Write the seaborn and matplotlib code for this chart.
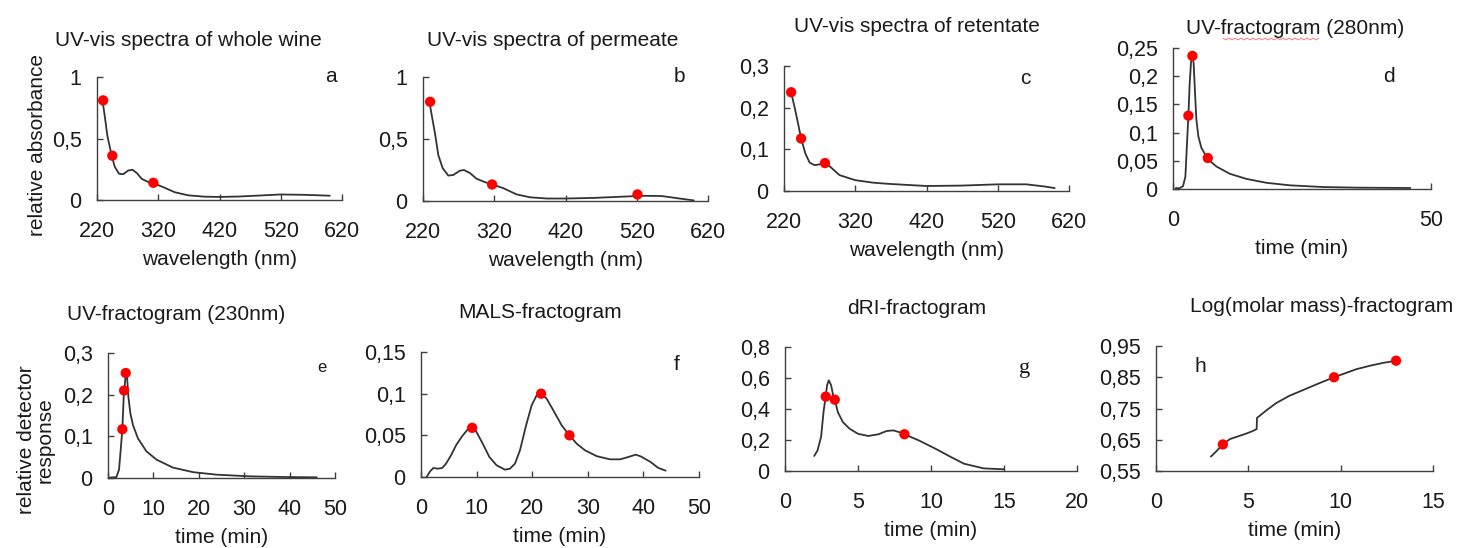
import matplotlib
matplotlib.use("Agg")
import matplotlib.pyplot as plt
from matplotlib.lines import Line2D
import seaborn as sns
import pandas as pd

sns.set_style("ticks")
plt.rcParams['font.family'] = ['Liberation Sans', 'DejaVu Sans']

# ---- data ----
# a: UV-vis spectra of whole wine
a_wl = [229, 233, 237, 244, 249, 256, 263, 271, 278, 285, 293, 304, 313, 326, 347, 369, 396,
        420, 450, 480, 520, 560, 600]
a_val = [0.81, 0.67, 0.52, 0.36, 0.27, 0.213, 0.21, 0.24, 0.246, 0.219, 0.172, 0.145, 0.134, 0.109,
         0.063, 0.038, 0.027, 0.025, 0.028, 0.035, 0.045, 0.042, 0.035]
a_dot_x = [230, 245, 312]
a_dot_y = [0.81, 0.36, 0.14]

# b: UV-vis spectra of permeate
b_wl = [229, 232, 237, 241.5, 247.6, 255.5, 262.5, 272, 277.5, 286, 295, 307, 316, 333, 351, 370,
        394, 420, 460, 500, 530, 555, 580, 600]
b_val = [0.80, 0.70, 0.54, 0.37, 0.265, 0.205, 0.21, 0.245, 0.25, 0.225, 0.18, 0.152, 0.136, 0.103,
         0.054, 0.03, 0.02, 0.02, 0.025, 0.035, 0.042, 0.04, 0.02, 0.005]
b_dot_x = [230, 317, 521]
b_dot_y = [0.80, 0.133, 0.053]

# c: UV-vis spectra of retentate
c_wl = [230, 235, 240, 244, 250, 256, 263, 270, 277, 285, 298, 320, 345, 368, 420, 470, 520, 560,
        585, 600]
c_val = [0.237, 0.20, 0.16, 0.126, 0.09, 0.068, 0.062, 0.064, 0.067, 0.058, 0.038, 0.026, 0.02,
         0.017, 0.012, 0.013, 0.016, 0.016, 0.011, 0.007]
c_dot_x = [230, 244, 277.5]
c_dot_y = [0.237, 0.126, 0.067]

# d: UV-fractogram (280nm)
d_t = [0.5, 1.3, 1.94, 2.4, 2.72, 2.98, 3.24, 3.5, 3.76, 4.0, 4.27, 4.53, 4.92, 5.5, 6.74, 8.4,
       11.0, 14.2, 18.1, 22.7, 29.1, 35.6, 46]
d_val = [0.0015, 0.0015, 0.005, 0.022, 0.082, 0.13, 0.188, 0.226, 0.236, 0.223, 0.17, 0.123, 0.093,
         0.073, 0.053, 0.040, 0.027, 0.018, 0.011, 0.0065, 0.0035, 0.0024, 0.0018]
d_dot_x = [2.98, 3.76, 6.74]
d_dot_y = [0.13, 0.236, 0.055]

# e: UV-fractogram (230nm)
e_t = [0.37, 1.84, 2.43, 2.8, 3.16, 3.46, 3.6, 3.9, 4.19, 4.49, 4.93, 5.5, 6.6, 8.46, 10.7, 14.3,
       18.75, 23.9, 31.25, 38.6, 46]
e_val = [0.001, 0.002, 0.02, 0.068, 0.117, 0.195, 0.21, 0.252, 0.244, 0.195, 0.155, 0.127, 0.095,
         0.064, 0.044, 0.025, 0.014, 0.008, 0.004, 0.0024, 0.0016]
e_dot_x = [3.16, 3.55, 3.9]
e_dot_y = [0.117, 0.21, 0.252]

# f: MALS-fractogram
f_t = [1.02, 1.63, 2.23, 3.0, 3.8, 4.5, 5.4, 6.3, 7.4, 8.4, 9.0, 9.9, 11.1, 12.3, 13.6, 15.1, 16.0,
       16.9, 17.8, 18.9, 19.9, 20.8, 21.6, 22.6, 23.8, 25.3, 26.7, 28.0, 29.5, 31.6, 34.0, 35.8,
       37.3, 38.6, 39.5, 41.3, 42.6, 44.0]
f_val = [0.0, 0.0068, 0.0108, 0.010, 0.0108, 0.016, 0.026, 0.038, 0.049, 0.057, 0.059, 0.055, 0.04,
         0.024, 0.014, 0.0088, 0.010, 0.016, 0.032, 0.062, 0.086, 0.098, 0.100, 0.094, 0.080, 0.062,
         0.050, 0.040, 0.032, 0.025, 0.0212, 0.0212, 0.024, 0.0268, 0.0248, 0.018, 0.0112, 0.0076]
f_dot_x = [9.2, 21.6, 26.7]
f_dot_y = [0.059, 0.100, 0.050]

# g: dRI-fractogram
g_t = [2.0, 2.23, 2.47, 2.65, 2.79, 2.88, 3.0, 3.16, 3.3, 3.41, 3.62, 3.96, 4.42, 5.0, 5.7, 6.4,
       6.96, 7.42, 7.88, 8.18, 9.15, 10.3, 11.45, 12.26, 13.6, 15.0]
g_val = [0.097, 0.133, 0.22, 0.39, 0.48, 0.553, 0.585, 0.553, 0.488, 0.46, 0.38, 0.316, 0.273,
         0.24, 0.226, 0.237, 0.258, 0.262, 0.249, 0.237, 0.198, 0.144, 0.086, 0.047, 0.017, 0.011]
g_dot_x = [2.79, 3.41, 8.18]
g_dot_y = [0.48, 0.46, 0.237]

# h: Log(molar mass)-fractogram
h_t = [2.97, 3.3, 3.62, 4.0, 4.5, 4.9, 5.2, 5.45, 5.47, 6.0, 6.5, 7.2, 8.0, 8.8, 9.64, 10.3, 10.86,
       11.6, 12.3, 13.0]
h_val = [0.596, 0.615, 0.635, 0.652, 0.662, 0.67, 0.677, 0.684, 0.72, 0.745, 0.767, 0.79, 0.81,
         0.83, 0.85, 0.864, 0.876, 0.887, 0.896, 0.903]
h_dot_x = [3.62, 9.64, 13.0]
h_dot_y = [0.635, 0.85, 0.903]

titles = ["UV-vis spectra of whole wine", "UV-vis spectra of permeate", "UV-vis spectra of retentate",
          "UV-fractogram (280nm)", "UV-fractogram (230nm)", "MALS-fractogram", "dRI-fractogram",
          "Log(molar mass)-fractogram"]
letters = ["a", "b", "c", "d", "e", "f", "g", "h"]
xlabels = ["wavelength (nm)"] * 3 + ["time (min)"] * 5

wl_ticks = [220, 320, 420, 520, 620]
xticks_all = [wl_ticks, wl_ticks, wl_ticks, [0, 50], [0, 10, 20, 30, 40, 50],
              [0, 10, 20, 30, 40, 50], [0, 5, 10, 15, 20], [0, 5, 10, 15]]
yticks_all = [[0, 0.5, 1], [0, 0.5, 1], [0, 0.1, 0.2, 0.3], [0, 0.05, 0.1, 0.15, 0.2, 0.25],
              [0, 0.1, 0.2, 0.3], [0, 0.05, 0.1, 0.15], [0, 0.2, 0.4, 0.6, 0.8],
              [0.55, 0.65, 0.75, 0.85, 0.95]]

curves = [(a_wl, a_val, a_dot_x, a_dot_y), (b_wl, b_val, b_dot_x, b_dot_y),
          (c_wl, c_val, c_dot_x, c_dot_y), (d_t, d_val, d_dot_x, d_dot_y),
          (e_t, e_val, e_dot_x, e_dot_y), (f_t, f_val, f_dot_x, f_dot_y),
          (g_t, g_val, g_dot_x, g_dot_y), (h_t, h_val, h_dot_x, h_dot_y)]

# ---- layout (pixel boxes: left, right, top, bottom) ----
W, H = 1464, 548
boxes = [(97, 342, 77, 200), (423, 708, 77, 201), (784, 1069, 66, 191), (1173, 1431, 48, 189),
         (108, 335, 353, 478), (421, 699, 352, 477), (785, 1077, 347, 471), (1156, 1433, 346, 471)]
title_pos = [(188, 40), (553, 40), (917, 27), (1295, 29), (176, 315), (540, 313), (917, 309),
             (1322, 307)]
letter_pos = [(331, 77), (679, 77), (1025, 78), (1389, 77), (322, 367), (677, 365), (1025, 368),
              (1200, 366)]

fig = plt.figure(figsize=(W / 100, H / 100), dpi=100)

for i in range(8):
    l, r, t, b = boxes[i]
    ax = fig.add_axes([l / W, 1 - b / H, (r - l) / W, (b - t) / H])
    xs, ys, dx, dy = curves[i]
    df = pd.DataFrame({"x": xs, "y": ys})
    sns.lineplot(data=df, x="x", y="y", ax=ax, color="#333333", lw=1.3, sort=False,
                 estimator=None)
    sns.scatterplot(x=dx, y=dy, ax=ax, color="red", s=55, edgecolor="none", zorder=5)

    xt = xticks_all[i]
    yt = yticks_all[i]
    ax.set_xlim(xt[0], xt[-1])
    ax.set_ylim(yt[0], yt[-1])
    ax.set_xticks(xt)
    ax.set_xticklabels([str(v) for v in xt])
    ax.set_yticks(yt)
    ax.set_yticklabels([("%g" % v).replace(".", ",") for v in yt])
    ax.tick_params(direction="in", length=4, width=1, color="#404040", labelsize=15.5,
                   labelcolor="#1a1a1a")
    ax.tick_params(axis="x", pad=15)
    ax.tick_params(axis="y", pad=11)
    for s in ["top", "right"]:
        ax.spines[s].set_visible(False)
    for s in ["left", "bottom"]:
        ax.spines[s].set_color("#404040")
        ax.spines[s].set_linewidth(1)
    ax.set_xlabel(xlabels[i], fontsize=15, labelpad=6, color="#1a1a1a")
    ax.set_ylabel("")
    ax.patch.set_alpha(0)

    tx, ty = title_pos[i]
    fig.text(tx / W, 1 - ty / H, titles[i], ha="center", va="center", fontsize=15,
             color="#1a1a1a")
    lx, ly = letter_pos[i]
    if letters[i] == "g":
        fig.text(lx / W, 1 - ly / H, "g", ha="center", va="center", fontsize=16,
                 family="Liberation Serif", color="#1a1a1a")
    elif letters[i] == "e":
        fig.text(lx / W, 1 - ly / H, "e", ha="center", va="center", fontsize=12, color="#1a1a1a")
    else:
        fig.text(lx / W, 1 - ly / H, letters[i], ha="center", va="center", fontsize=15,
                 color="#1a1a1a")

# spell-check squiggle under "fractogram" in the panel d title
sq_x = [1223 + 3 * k for k in range(33)]
sq_y = [38 + (k % 2) * 2 for k in range(33)]
fig.add_artist(Line2D([x / W for x in sq_x], [1 - y / H for y in sq_y], color="red", lw=0.6,
                      alpha=0.6))

fig.text(38 / W, 1 - 145 / H, "relative absorbance", rotation=90, ha="center", va="center",
         fontsize=15, color="#1a1a1a")
fig.text(36 / W, 1 - 440 / H, "relative detector\nresponse", rotation=90, ha="center",
         va="center", fontsize=15, color="#1a1a1a", linespacing=1.0)

fig.savefig("out.png", dpi=100)
